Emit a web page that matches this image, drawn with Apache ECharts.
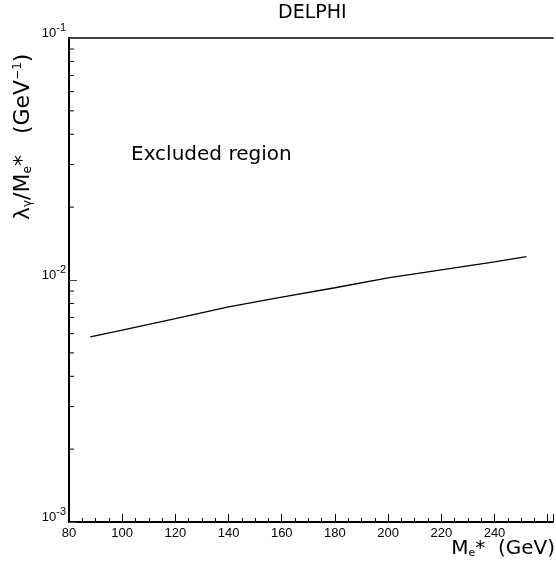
<!DOCTYPE html>
<html>
<head>
<meta charset="utf-8">
<script src="https://cdn.jsdelivr.net/npm/echarts@6/dist/echarts.min.js"></script>
<style>
  html, body { margin: 0; padding: 0; background: #fff; }
  #chart { width: 556px; height: 568px; }
</style>
</head>
<body>
<div id="chart"></div>
<script>
// limit curve
const massGeV = [88, 100, 120, 140, 160, 180, 200, 220, 240, 252];
const limit = [0.00582, 0.00621, 0.00692, 0.00774, 0.00849, 0.00929, 0.0102, 0.01102, 0.01189, 0.01249];

// y minor ticks (2..9 per decade)
const yMinor = [0.002, 0.003, 0.004, 0.005, 0.006, 0.007, 0.008, 0.009,
  0.02, 0.03, 0.04, 0.05, 0.06, 0.07, 0.08, 0.09];
const yExp = { '0.001': '-3', '0.01': '-2', '0.1': '-1' };

const FONT = '"Liberation Sans", Arial, sans-serif';
const TFONT = '"DejaVu Sans", sans-serif';

var chart = echarts.init(document.getElementById('chart'));

var option = {
  animation: false,
  backgroundColor: '#fff',
  grid: { left: 69, right: 0, top: 38, bottom: 46 },
  xAxis: [
    {
      type: 'value',
      min: 80,
      max: 262,
      interval: 20,
      axisLine: { lineStyle: { color: '#000', width: 2 } },
      axisTick: { inside: true, length: 8, lineStyle: { color: '#000' } },
      minorTick: { show: true, splitNumber: 4, length: 4, lineStyle: { color: '#000' } },
      splitLine: { show: false },
      axisLabel: {
        color: '#000', fontFamily: FONT, fontSize: 13, margin: 5,
        formatter: function (v) { return v > 245 ? '' : String(v); }
      }
    },
    {
      type: 'value',
      position: 'top',
      min: 80,
      max: 262,
      axisLine: { show: true, lineStyle: { color: '#000', width: 1.5 } },
      axisTick: { show: false },
      axisLabel: { show: false },
      splitLine: { show: false }
    }
  ],
  yAxis: {
    type: 'log',
    logBase: 10,
    min: 0.001,
    max: 0.1,
    axisLine: { show: true, lineStyle: { color: '#000', width: 2 } },
    axisTick: { inside: true, length: 8, lineStyle: { color: '#444' } },
    splitLine: { show: false },
    axisLabel: {
      margin: 3,
      padding: [0, 0, 10, 0],
      formatter: function (v) {
        var key = String(Number(v.toPrecision(3)));
        return '{b|10}{s|' + (yExp[key] || '') + '}';
      },
      rich: {
        b: { fontFamily: FONT, fontSize: 13, color: '#000' },
        s: { fontFamily: FONT, fontSize: 11, color: '#000', padding: [0, 0, 10, 0] }
      }
    }
  },
  series: [
    {
      type: 'line',
      xAxisIndex: 0,
      data: massGeV.map(function (m, i) { return [m, limit[i]]; }),
      showSymbol: false,
      lineStyle: { color: '#000', width: 1.3 }
    },
    {
      type: 'custom',
      xAxisIndex: 0,
      clip: false,
      data: yMinor.map(function (v) { return [80, v]; }),
      renderItem: function (params, api) {
        var p = api.coord([api.value(0), api.value(1)]);
        return {
          type: 'line',
          shape: { x1: p[0], y1: p[1], x2: p[0] + 5, y2: p[1] },
          style: { stroke: '#000', lineWidth: 1 }
        };
      }
    }
  ],
  graphic: [
    {
      type: 'text', left: 278, top: 4,
      style: { text: 'DELPHI', font: '19px ' + TFONT, fill: '#000' }
    },
    {
      type: 'text', left: 131, top: 145,
      style: { text: 'Excluded region', font: '20px ' + TFONT, fill: '#000' }
    },
    {
      type: 'text', right: 1, top: 539,
      style: {
        text: '{t|M}{sub|e}{t|*  (GeV)}',
        rich: {
          t: { fontFamily: TFONT, fontSize: 20, color: '#000' },
          sub: { fontFamily: TFONT, fontSize: 11, color: '#000', padding: [9, 0, 0, 0] }
        }
      }
    },
    {
      type: 'text', x: 12, y: 220, rotation: Math.PI / 2,
      style: {
        text: '{t|λ}{sub|γ}{t|/M}{sub|e}{t|*   (GeV}{sup|−1}{t|)}',
        rich: {
          t: { fontFamily: TFONT, fontSize: 22, color: '#000' },
          sub: { fontFamily: TFONT, fontSize: 12, color: '#000', padding: [9, 0, 0, 0] },
          sup: { fontFamily: TFONT, fontSize: 12, color: '#000', padding: [0, 0, 11, 0] }
        }
      }
    }
  ]
};

chart.setOption(option);
</script>
</body>
</html>
